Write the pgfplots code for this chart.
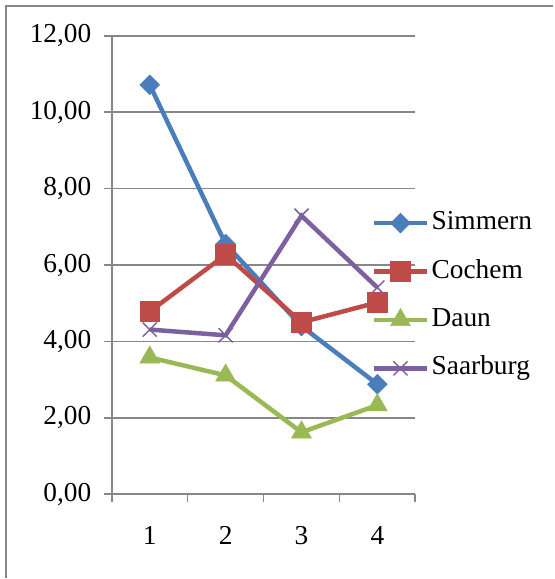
\documentclass[border=0pt]{standalone}
\usepackage{fontspec}
\setmainfont{Liberation Serif}
\usepackage{pgfplots}
\pgfplotsset{compat=1.18}
\definecolor{cBlue}{HTML}{4A7EBB}
\definecolor{cRed}{HTML}{BE4B48}
\definecolor{cGreen}{HTML}{98B954}
\definecolor{cPurple}{HTML}{7D60A0}
\definecolor{cGrid}{HTML}{878787}
\begin{document}
\begin{tikzpicture}[x=1bp,y=1bp]
\path (0,0) rectangle (554,579);
\draw[cGrid, line width=2bp] (6,0) -- (6,573) -- (554,573);
\begin{axis}[
  at={(112bp,84bp)}, anchor=south west,
  scale only axis, width=304bp, height=459bp,
  xmin=0.5, xmax=4.5, ymin=0, ymax=12,
  axis x line=bottom, axis y line=left,
  axis line style={-, cGrid, line width=1.6bp},
  xtick={1,2,3,4},
  xticklabels={1,2,3,4},
  minor xtick={0.5,1.5,2.5,3.5,4.5},
  ytick={0,2,4,6,8,10,12},
  tick align=outside,
  major tick length=8bp, minor tick length=8bp,
  x tick style={draw=none},
  minor x tick style={draw=cGrid, line width=1.6bp},
  y tick style={draw=cGrid, line width=1.6bp},
  ymajorgrids, grid style={cGrid, line width=1.6bp},
  tick label style={font=\fontsize{27.5}{31}\selectfont},
  yticklabel style={xshift=-9bp},
  xticklabel style={yshift=-21bp},
  /pgf/number format/.cd, fixed, fixed zerofill, precision=2, use comma, assume math mode=true,
  /pgfplots/.cd,
  legend style={at={(rel axis cs:0.855,0.433)}, anchor=west, draw=none, fill=none,
    inner sep=0pt, outer sep=0pt, row sep=21.5bp,
    nodes={inner sep=2bp, text height=18bp, text depth=5bp, font=\fontsize{27.5}{31}\selectfont}},
  legend cell align=left,
  legend image code/.code={\draw[mark repeat=2,mark phase=2] plot coordinates {(0bp,0bp)(27bp,0bp)(54bp,0bp)};},
  every axis plot/.append style={line width=4.5bp},
]
\addplot[cBlue, mark=square*, mark size=7bp, mark options={rotate=45, solid, line width=0.5bp, fill=cBlue}]
  coordinates {(1,10.72) (2,6.55) (3,4.40) (4,2.88)};
\addlegendentry{Simmern}
\addplot[cRed, mark=square*, mark size=10bp, mark options={solid, line width=0.5bp, fill=cRed}]
  coordinates {(1,4.78) (2,6.27) (3,4.50) (4,5.02)};
\addlegendentry{Cochem}
\addplot[cGreen, mark=triangle*, mark size=11.5bp, mark options={solid, line width=0.5bp, fill=cGreen}]
  coordinates {(1,3.58) (2,3.11) (3,1.62) (4,2.33)};
\addlegendentry{Daun}
\addplot[cPurple, mark=x, mark size=10bp, mark options={solid, line width=1.5bp}]
  coordinates {(1,4.31) (2,4.16) (3,7.29) (4,5.41)};
\addlegendentry{Saarburg}
\end{axis}
\end{tikzpicture}
\end{document}
